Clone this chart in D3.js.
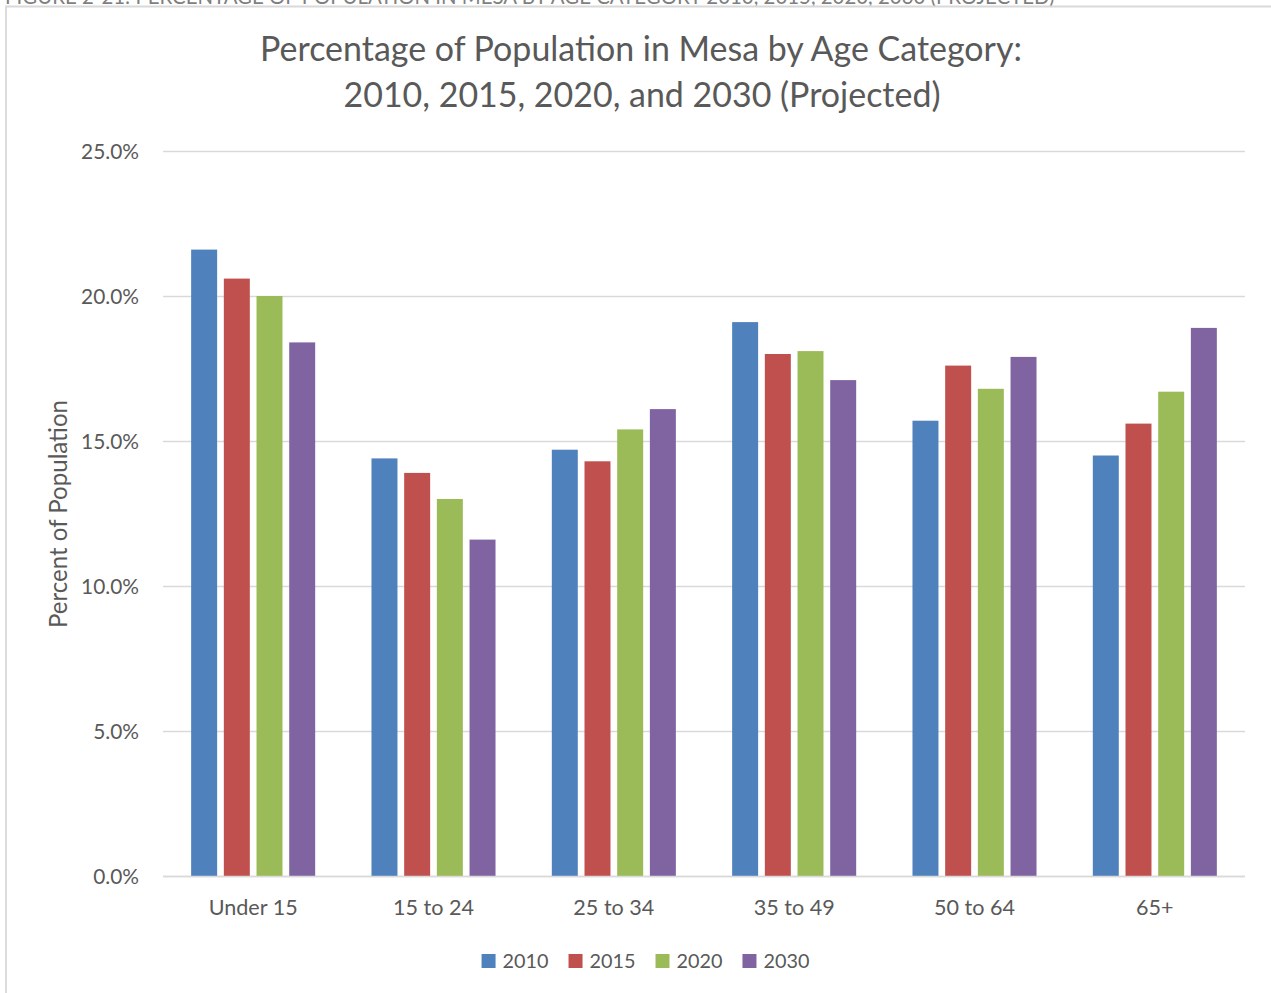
<!DOCTYPE html>
<html><head><meta charset="utf-8">
<script src="https://cdn.jsdelivr.net/npm/d3@7"></script>
<style>body{margin:0;background:#fff}svg{display:block;font-family:Lato,"Open Sans",sans-serif}</style>
</head><body><svg id="c" width="1271" height="993"></svg>
<script>
const categories = ["Under 15","15 to 24","25 to 34","35 to 49","50 to 64","65+"];
const seriesNames = ["2010","2015","2020","2030"];
const v2010 = [21.6,14.4,14.7,19.1,15.7,14.5];
const v2015 = [20.6,13.9,14.3,18.0,17.6,15.6];
const v2020 = [20.0,13.0,15.4,18.1,16.8,16.7];
const v2030 = [18.4,11.6,16.1,17.1,17.9,18.9];
const yTicks = [0,5,10,15,20,25];
const colors = ["#4F81BD","#C0504D","#9BBB59","#8064A2"];
const titleLines = ["Percentage of Population in Mesa by Age Category:","2010, 2015, 2020, and 2030 (Projected)"];
const figureCaption = "FIGURE 2-21: PERCENTAGE OF POPULATION IN MESA BY AGE CATEGORY 2010, 2015, 2020, 2030 (PROJECTED)";
const yTitle = "Percent of Population";

const seriesValues = [v2010, v2015, v2020, v2030];
const rows = categories.map((c,i)=>({cat:c, vals: seriesNames.map((s,j)=>({s, v: seriesValues[j][i], color: colors[j]}))}));

const svg = d3.select("#c");
const textColor = "#595959";
const grid = "#D9D9D9";

function fitWidth(sel, w){
  const len = sel.node().getComputedTextLength();
  const fs = parseFloat(sel.attr("font-size"));
  const nfs = fs*w/len;
  sel.attr("font-size", nfs);
  return nfs;
}

// cut-off caption at very top
const cap = svg.append("text").attr("x",5).attr("y",3.5).attr("font-size",17).attr("fill","#7f7f7f").text(figureCaption);
fitWidth(cap, 1050);

// chart border
svg.append("path").attr("d","M6,993V6.5H1271").attr("fill","none").attr("stroke",grid).attr("stroke-width",1.8);

// title
const t1 = svg.append("text").attr("x",641).attr("y",61).attr("text-anchor","middle").attr("font-size",30).attr("fill",textColor).text(titleLines[0]);
const tfs = fitWidth(t1, 762);
svg.append("text").attr("x",642).attr("y",107).attr("text-anchor","middle").attr("font-size",tfs).attr("fill",textColor).text(titleLines[1]);

const x0 = d3.scaleBand().domain(categories).range([163,1245]).paddingInner(0.275).paddingOuter(0.1375);
const x1 = d3.scaleBand().domain(seriesNames).range([0,x0.bandwidth()]).paddingInner(0.205).paddingOuter(0.1025);
const y = d3.scaleLinear().domain([0,25]).range([876,151]);

// gridlines
svg.append("g").selectAll("line").data(yTicks).join("line")
  .attr("x1",163).attr("x2",1245).attr("y1",d=>y(d)+0.5).attr("y2",d=>y(d)+0.5)
  .attr("stroke",grid).attr("stroke-width",1.3);

// y tick labels via axis
const yAxis = svg.append("g").attr("transform","translate(163,0)")
  .call(d3.axisLeft(y).tickValues(yTicks).tickFormat(d=>d3.format(".1f")(d)+"%").tickSize(0).tickPadding(24));
yAxis.select(".domain").remove();
yAxis.selectAll("text").attr("fill",textColor).attr("font-size",20).attr("font-family","Lato,'Open Sans',sans-serif").attr("dy","0.36em");
{
  const ref = yAxis.selectAll("text").filter(d=>d===25);
  const fs = fitWidth(ref, 58);
  yAxis.selectAll("text").attr("font-size",fs);
}

// bars
svg.append("g").selectAll("g").data(rows).join("g")
  .attr("transform",d=>`translate(${x0(d.cat)},0)`)
  .selectAll("rect").data(d=>d.vals).join("rect")
  .attr("x",d=>x1(d.s)).attr("width",x1.bandwidth())
  .attr("y",d=>y(d.v)).attr("height",d=>y(0)-y(d.v))
  .attr("fill",d=>d.color);

// x axis
const xAxis = svg.append("g").attr("transform","translate(0,876)")
  .call(d3.axisBottom(x0).tickSize(0).tickPadding(0));
xAxis.select(".domain").attr("stroke",grid).attr("stroke-width",1.3).attr("d","M163,0.5H1245");
xAxis.selectAll("text").attr("fill",textColor).attr("font-size",20).attr("font-family","Lato,'Open Sans',sans-serif").attr("dy",null).attr("y",39);
{
  const ref = xAxis.selectAll("text").filter(d=>d==="Under 15");
  const fs = fitWidth(ref, 89);
  xAxis.selectAll("text").attr("font-size",fs);
}

// y title
const yt = svg.append("text").attr("transform","translate(67,514) rotate(-90)").attr("text-anchor","middle")
  .attr("font-size",22).attr("fill",textColor).text(yTitle);
fitWidth(yt, 228);

// legend
const lg = svg.append("g");
const items = lg.selectAll("g").data(seriesNames).join("g");
items.append("rect").attr("width",14).attr("height",14).attr("y",954).attr("fill",(d,i)=>colors[i]);
const ltexts = items.append("text").attr("y",968).attr("font-size",20).attr("fill",textColor).text(d=>d);
let lfs = fitWidth(d3.select(ltexts.nodes()[0]), 46);
ltexts.attr("font-size",lfs);
let widths = ltexts.nodes().map(n=>n.getComputedTextLength());
let total = widths.reduce((a,w)=>a+14+7+w,0) + 20*(widths.length-1);
let cx = 645.5 - total/2;
items.each(function(d,i){
  const g = d3.select(this);
  g.select("rect").attr("x",cx);
  g.select("text").attr("x",cx+21);
  cx += 14+7+widths[i]+20;
});
</script></body></html>
